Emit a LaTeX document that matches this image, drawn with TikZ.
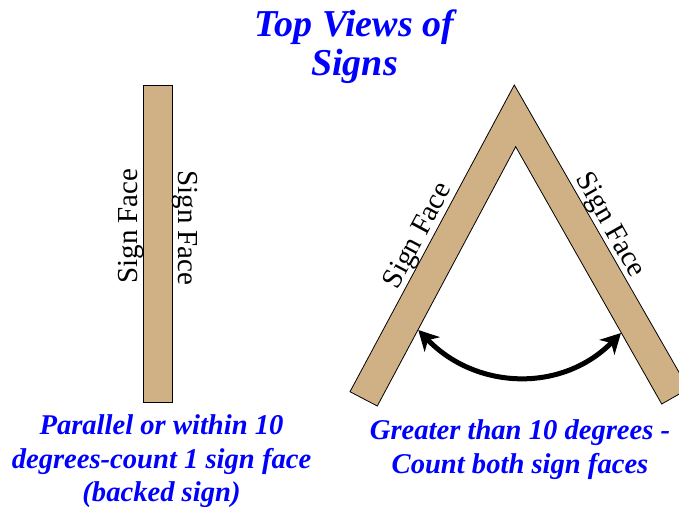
\documentclass[tikz,border=0pt]{standalone}
\usepackage{fontspec}
\setmainfont{Liberation Serif}
\usetikzlibrary{arrows.meta}
\definecolor{board}{RGB}{208,177,134}
\definecolor{capblue}{RGB}{0,0,255}
\begin{document}
\begin{tikzpicture}[x=1pt,y=-1pt,
  boardshape/.style={fill=board,draw=black,line width=0.8pt},
  facelabel/.style={font=\fontsize{29}{31}\selectfont,inner sep=0pt,anchor=base},
  titletext/.style={font=\fontsize{38}{40}\selectfont\bfseries\itshape,text=capblue,inner sep=0pt,anchor=base},
  captext/.style={font=\fontsize{28.6}{34}\selectfont\bfseries\itshape,text=capblue,inner sep=0pt,anchor=base},
  sweep/.style={line width=5pt,{Stealth[length=20pt,width=21pt,inset=6pt]}-{Stealth[length=20pt,width=21pt,inset=6pt]}}]
\useasboundingbox (0,0) rectangle (679,506);
% boards (top views)
\begin{scope}
  \clip (0,0) rectangle (679,506);
  \draw[boardshape] (143,85) rectangle (172,402);
  \draw[boardshape] (514.3,85) -- (688.5,388.8) -- (661.7,404) -- (515.7,146.7)
        -- (377.3,406) -- (350,391.7) -- cycle;
\end{scope}
% sign face labels
\node[facelabel,rotate=90]  (flatL) at (137,226) {Sign Face};
\node[facelabel,rotate=-90] (flatR) at (178,228) {Sign Face};
\node[facelabel,rotate=61.8]  (veeL) at (424.8,239.4) {Sign Face};
\node[facelabel,rotate=-60.5] (veeR) at (603.5,228.6) {Sign Face};
% angle arrow
\coordinate (legL) at (418.3,330);
\coordinate (legR) at (621,333);
\draw[sweep] (legL) .. controls (476,390) and (562,393) .. (legR);
% title
\node[titletext] (title1) at (354.5,36.7) {Top Views of};
\node[titletext] (title2) at (354.5,75) {Signs};
% captions
\node[captext] (capL1) at (161.5,434.3) {Parallel or within 10};
\node[captext] (capL2) at (161.5,468.3) {degrees-count 1 sign face};
\node[captext] (capL3) at (161.5,501) {(backed sign)};
\node[captext] (capR1) at (520,439.3) {Greater than 10 degrees -};
\node[captext] (capR2) at (520,473.3) {Count both sign faces};
\end{tikzpicture}
\end{document}
